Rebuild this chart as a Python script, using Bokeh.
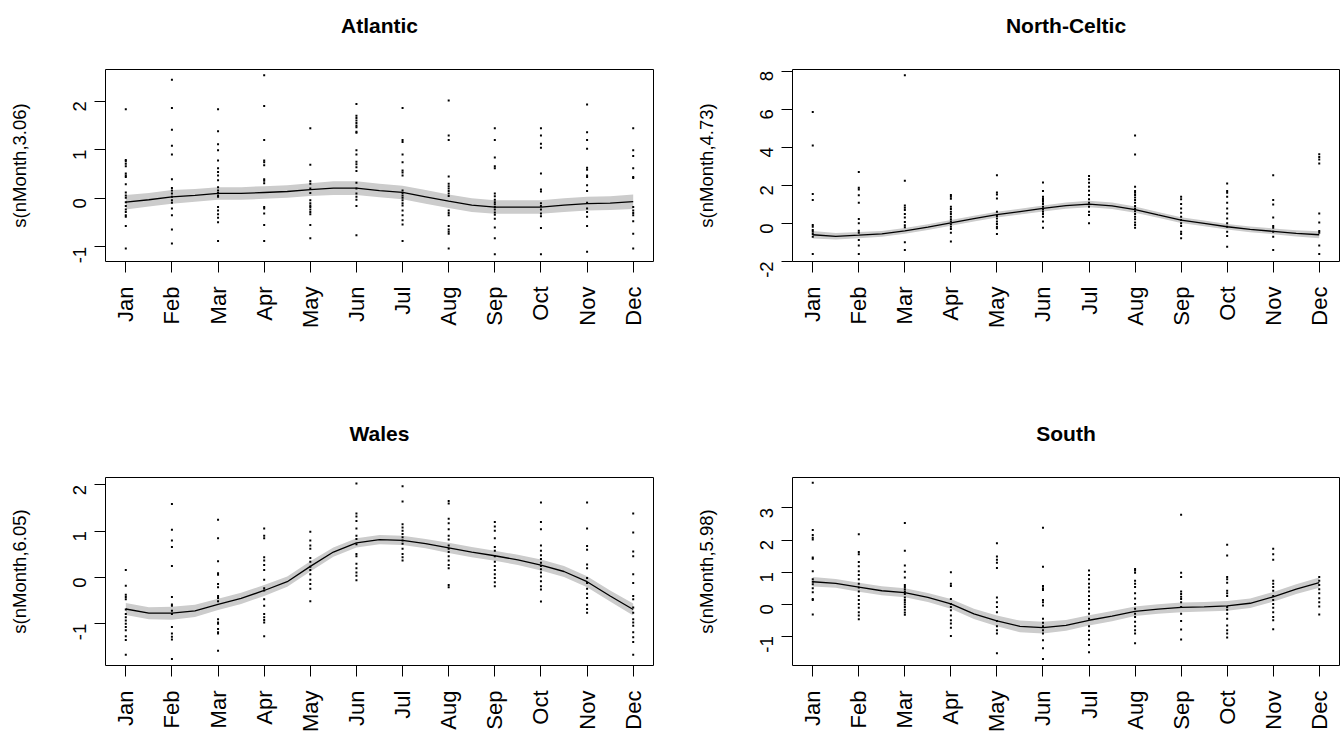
import math

from bokeh.embed import file_html
from bokeh.layouts import column, row
from bokeh.models import FixedTicker, Title
from bokeh.plotting import figure
from bokeh.resources import INLINE

# ---- data -------------------------------------------------------------
months = ["Jan", "Feb", "Mar", "Apr", "May", "Jun",
          "Jul", "Aug", "Sep", "Oct", "Nov", "Dec"]
month_num = [1, 2, 3, 4, 5, 6, 7, 8, 9, 10, 11, 12]

# smooth evaluated every half month, Jan .. Dec
fit_x = [1.0, 1.5, 2.0, 2.5, 3.0, 3.5, 4.0, 4.5, 5.0, 5.5, 6.0, 6.5,
         7.0, 7.5, 8.0, 8.5, 9.0, 9.5, 10.0, 10.5, 11.0, 11.5, 12.0]

atlantic_fit = [-0.08, -0.03, 0.03, 0.06, 0.10, 0.10, 0.12, 0.14, 0.18, 0.21, 0.21, 0.16,
                0.12, 0.03, -0.06, -0.14, -0.18, -0.18, -0.18, -0.14, -0.11, -0.10, -0.07]
atlantic_se = [0.15, 0.14, 0.14, 0.13, 0.13, 0.13, 0.13, 0.13, 0.13, 0.14, 0.14, 0.14,
               0.14, 0.14, 0.14, 0.14, 0.14, 0.14, 0.14, 0.14, 0.14, 0.14, 0.15]
atlantic_resid = [
    [1.83, 0.79, 0.76, 0.71, 0.66, 0.51, 0.47, 0.44, 0.29, 0.12, 0.06, 0.01, -0.08, -0.16,
     -0.23, -0.28, -0.35, -0.38, -0.57, -1.03],
    [2.44, 1.86, 1.41, 1.08, 0.90, 0.39, 0.21, 0.16, 0.10, 0.03, -0.04, -0.09, -0.21, -0.35,
     -0.64, -0.93],
    [1.83, 1.38, 1.11, 0.99, 0.78, 0.62, 0.54, 0.47, 0.37, 0.23, 0.16, 0.11, 0.06, 0.03,
     -0.18, -0.25, -0.33, -0.40, -0.49, -0.88],
    [2.53, 1.90, 1.20, 0.78, 0.74, 0.68, 0.39, 0.36, 0.31, -0.18, -0.21, -0.31, -0.55, -0.88],
    [1.44, 0.69, 0.35, 0.30, 0.20, 0.11, -0.04, -0.10, -0.15, -0.18, -0.23, -0.28, -0.33,
     -0.55, -0.82],
    [1.94, 1.70, 1.65, 1.60, 1.55, 1.50, 1.46, 1.37, 1.35, 0.99, 0.90, 0.75, 0.70, 0.64,
     0.56, 0.32, 0.20, 0.10, 0.03, -0.03, -0.16, -0.76],
    [1.86, 1.20, 1.16, 0.90, 0.74, 0.57, 0.53, 0.47, 0.16, 0.11, 0.06, 0.01, -0.04, -0.10,
     -0.15, -0.25, -0.35, -0.45, -0.54, -0.88],
    [2.01, 1.29, 1.20, 0.45, 0.30, 0.25, 0.20, 0.15, 0.10, 0.05, -0.25, -0.30, -0.35, -0.57,
     -0.64, -0.69, -0.73, -1.03],
    [1.44, 1.20, 0.84, 0.66, 0.62, 0.10, 0.04, -0.03, -0.08, -0.12, -0.18, -0.23, -0.29,
     -0.34, -0.42, -0.60, -0.82, -1.15],
    [1.44, 1.29, 1.12, 1.04, 0.51, 0.18, 0.14, -0.10, -0.16, -0.23, -0.31, -0.37, -0.61, -1.15],
    [1.93, 1.36, 1.20, 1.02, 0.63, 0.59, 0.47, 0.44, 0.27, 0.15, -0.09, -0.21, -0.28, -0.38,
     -0.57, -1.10],
    [1.44, 0.99, 0.87, 0.62, 0.44, 0.42, -0.18, -0.25, -0.30, -0.35, -0.47, -0.73, -1.03],
]

north_celtic_fit = [-0.60, -0.68, -0.62, -0.55, -0.40, -0.20, 0.02, 0.25, 0.46, 0.62, 0.78, 0.93,
                    1.01, 0.92, 0.72, 0.44, 0.17, 0.00, -0.18, -0.32, -0.42, -0.53, -0.60]
north_celtic_se = [0.20, 0.17, 0.16, 0.15, 0.15, 0.15, 0.15, 0.15, 0.15, 0.15, 0.16, 0.17,
                   0.17, 0.17, 0.16, 0.15, 0.15, 0.15, 0.15, 0.15, 0.15, 0.16, 0.18]
north_celtic_resid = [
    [5.85, 4.09, 1.54, 1.22, -0.09, -0.18, -0.35, -0.44, -0.56, -0.70, -1.61],
    [2.69, 1.87, 1.78, 1.47, 1.08, 0.23, 0.00, -0.39, -0.49, -0.87, -1.16, -1.61],
    [7.78, 2.23, 0.94, 0.82, 0.70, 0.49, 0.30, 0.07, -0.10, -0.21, -0.99, -1.40],
    [1.49, 1.40, 1.29, 0.87, 0.75, 0.61, 0.49, 0.35, 0.21, 0.09, -0.05, -0.18, -0.30, -0.49,
     -0.96],
    [2.53, 1.62, 1.52, 1.31, 0.61, 0.38, 0.26, 0.09, -0.04, -0.18, -0.26, -0.56],
    [2.15, 1.70, 1.40, 1.31, 1.22, 1.13, 1.01, 0.87, 0.73, 0.61, 0.49, 0.35, 0.09, -0.23],
    [2.48, 2.31, 2.13, 1.92, 1.71, 1.49, 1.26, 1.08, 0.87, 0.61, 0.44, 0.00],
    [4.61, 3.62, 1.92, 1.70, 1.61, 1.49, 1.36, 1.22, 1.08, 0.91, 0.78, 0.64, 0.49, 0.35,
     0.21, 0.05, -0.09, -0.23],
    [1.40, 1.26, 1.01, 0.78, 0.56, 0.35, 0.17, 0.00, -0.14, -0.44, -0.56, -0.79],
    [2.09, 1.70, 1.61, 1.40, 1.08, 0.78, 0.52, 0.26, 0.00, -0.18, -0.44, -0.67, -1.23],
    [2.53, 1.22, 0.99, 0.31, -0.14, -0.23, -0.44, -0.70, -1.40],
    [3.63, 3.49, 3.35, 3.14, 0.52, 0.05, -0.40, -0.49, -1.16, -1.61],
]

wales_fit = [-0.68, -0.77, -0.77, -0.72, -0.58, -0.45, -0.28, -0.09, 0.24, 0.55, 0.75, 0.82,
             0.80, 0.73, 0.64, 0.55, 0.47, 0.38, 0.27, 0.13, -0.09, -0.40, -0.69]
wales_se = [0.13, 0.13, 0.14, 0.13, 0.12, 0.12, 0.12, 0.11, 0.11, 0.10, 0.10, 0.10,
            0.10, 0.10, 0.11, 0.11, 0.11, 0.11, 0.12, 0.12, 0.12, 0.12, 0.13]
wales_resid = [
    [0.16, -0.18, -0.37, -0.42, -0.47, -0.69, -0.79, -0.86, -0.93, -1.00, -1.07, -1.14,
     -1.27, -1.35, -1.67],
    [1.59, 1.03, 0.80, 0.66, 0.25, -0.42, -0.58, -0.61, -0.72, -0.79, -1.07, -1.21, -1.28,
     -1.34, -1.76],
    [1.25, 0.85, 0.35, 0.09, 0.06, -0.14, -0.21, -0.40, -0.44, -0.51, -0.90, -0.97, -1.00,
     -1.11, -1.18, -1.21, -1.58],
    [1.06, 0.90, 0.85, 0.44, 0.37, 0.27, 0.16, -0.05, -0.23, -0.28, -0.47, -0.61, -0.79,
     -0.86, -0.92, -0.97, -1.27],
    [0.99, 0.80, 0.69, 0.62, 0.42, 0.34, 0.23, 0.16, 0.07, -0.05, -0.14, -0.24, -0.51],
    [2.03, 1.38, 1.32, 1.22, 1.06, 0.90, 0.83, 0.72, 0.51, 0.46, 0.30, 0.20, 0.11, 0.04, -0.06],
    [1.97, 1.64, 1.15, 1.08, 1.01, 0.94, 0.87, 0.80, 0.73, 0.62, 0.51, 0.44, 0.37],
    [1.65, 1.60, 1.27, 1.17, 1.04, 0.90, 0.82, 0.69, 0.62, 0.55, 0.46, 0.37, 0.27, 0.20,
     -0.16, -0.21],
    [1.20, 1.10, 1.01, 0.85, 0.66, 0.58, 0.46, 0.34, 0.25, 0.16, 0.07, -0.01, -0.10, -0.19],
    [1.62, 1.20, 1.04, 0.69, 0.58, 0.48, 0.40, 0.32, 0.25, 0.18, 0.11, 0.02, -0.08, -0.19,
     -0.26, -0.52],
    [1.62, 1.06, 0.68, 0.60, 0.28, 0.20, -0.01, -0.12, -0.24, -0.35, -0.44, -0.59, -0.68, -0.76],
    [1.38, 0.97, 0.56, 0.46, 0.07, -0.12, -0.40, -0.47, -0.65, -0.76, -0.90, -0.97, -1.04,
     -1.18, -1.29, -1.39, -1.67],
]

south_fit = [0.70, 0.65, 0.53, 0.42, 0.36, 0.21, 0.01, -0.30, -0.52, -0.69, -0.73, -0.66,
             -0.50, -0.37, -0.22, -0.15, -0.10, -0.08, -0.05, 0.03, 0.23, 0.47, 0.67]
south_se = [0.15, 0.14, 0.14, 0.14, 0.14, 0.14, 0.15, 0.16, 0.17, 0.18, 0.18, 0.17,
            0.16, 0.16, 0.15, 0.15, 0.15, 0.15, 0.15, 0.15, 0.15, 0.15, 0.16]
south_resid = [
    [3.79, 2.31, 2.16, 2.07, 2.02, 1.46, 1.42, 1.03, 0.78, 0.70, 0.62, 0.50, 0.37, 0.16,
     0.13, -0.32],
    [2.18, 1.63, 1.56, 1.32, 1.18, 1.03, 0.91, 0.78, 0.64, 0.52, 0.40, 0.26, 0.13, 0.01,
     -0.11, -0.25, -0.35, -0.47],
    [2.53, 1.67, 1.21, 1.01, 0.83, 0.60, 0.54, 0.47, 0.40, 0.32, 0.21, 0.13, 0.06, -0.01,
     -0.09, -0.17, -0.26, -0.33],
    [1.00, 0.64, 0.57, 0.16, 0.01, -0.09, -0.19, -0.35, -0.50, -0.60, -0.73, -0.99],
    [1.90, 1.49, 1.39, 1.29, 1.13, 0.21, 0.06, -0.09, -0.25, -0.52, -0.69, -0.81, -0.91, -1.53],
    [2.38, 1.17, 0.57, 0.50, 0.44, 0.13, 0.06, -0.04, -0.45, -0.58, -0.69, -0.81, -0.91,
     -1.12, -1.37, -1.71],
    [1.05, 0.91, 0.78, 0.64, 0.52, 0.40, 0.26, 0.13, 0.01, -0.14, -0.30, -0.45, -0.69, -0.83,
     -0.96, -1.10, -1.27, -1.50],
    [1.10, 1.05, 0.98, 0.73, 0.64, 0.54, 0.34, 0.18, 0.01, -0.14, -0.30, -0.40, -0.55, -0.69,
     -0.81, -0.91, -1.22],
    [2.79, 0.98, 0.85, 0.40, 0.32, 0.23, 0.16, 0.06, -0.09, -0.30, -0.52, -0.79, -1.10],
    [1.85, 1.52, 0.85, 0.78, 0.67, 0.42, 0.34, 0.26, -0.09, -0.17, -0.30, -0.45, -0.66,
     -0.81, -0.91, -1.04],
    [1.73, 1.56, 1.39, 0.73, 0.64, 0.54, 0.42, 0.26, 0.13, 0.01, -0.11, -0.25, -0.40, -0.50,
     -0.78],
    [0.85, 0.73, 0.60, 0.47, 0.34, 0.19, 0.06, -0.07, -0.32],
]

FONT = "Liberation Sans"


def smooth_panel(title, ylab, fit, se, resid, y_range, y_ticks,
                 border_left, border_right, height, border_bottom):
    p = figure(width=670, height=height,
               x_range=(0.56, 12.44), y_range=y_range,
               output_backend="svg", toolbar_location=None,
               min_border_left=border_left, min_border_right=border_right,
               min_border_top=69, min_border_bottom=border_bottom,
               background_fill_color="white", border_fill_color="white")

    # a blank spacer title keeps the heading clear of the plotting box
    p.add_layout(Title(text=" ", text_font=FONT, text_font_size="10px",
                       text_color="black", standoff=20), "above")
    p.add_layout(Title(text=title, align="center", text_font=FONT,
                       text_font_size="21px", text_font_style="bold",
                       text_color="black", standoff=0), "above")

    p.grid.visible = False
    p.outline_line_color = "black"
    p.outline_line_width = 1
    p.outline_line_alpha = 1.0

    # confidence band, fitted smooth, partial residuals
    lower = [f - s for f, s in zip(fit, se)]
    upper = [f + s for f, s in zip(fit, se)]
    p.varea(x=fit_x, y1=lower, y2=upper, fill_color="#CCCCCC")
    p.line(fit_x, fit, line_color="black", line_width=1.3)

    px = [m for m, vals in zip(month_num, resid) for _ in vals]
    py = [v for vals in resid for v in vals]
    p.scatter(px, py, marker="square", size=2, fill_color="black", line_color=None)

    xa = p.xaxis[0]
    xa.ticker = FixedTicker(ticks=month_num)
    xa.major_label_overrides = {m: lab for m, lab in zip(month_num, months)}
    xa.major_label_orientation = math.pi / 2
    xa.major_label_text_font = FONT
    xa.major_label_text_font_size = "22px"
    xa.major_label_text_color = "black"
    xa.major_label_standoff = 14
    xa.major_tick_out = 11
    xa.major_tick_in = 0
    xa.minor_tick_out = 0
    xa.minor_tick_in = 0
    xa.axis_line_color = None
    xa.major_tick_line_color = "black"

    ya = p.yaxis[0]
    ya.ticker = FixedTicker(ticks=y_ticks)
    ya.major_label_overrides = {t: str(t) for t in y_ticks}
    ya.major_label_orientation = math.pi / 2
    ya.major_label_text_font = FONT
    ya.major_label_text_font_size = "18.5px"
    ya.major_label_text_color = "black"
    ya.major_label_standoff = 15
    ya.major_tick_out = 11
    ya.major_tick_in = 0
    ya.minor_tick_out = 0
    ya.minor_tick_in = 0
    ya.axis_line_color = None
    ya.major_tick_line_color = "black"
    ya.axis_label = ylab
    ya.axis_label_text_font = FONT
    ya.axis_label_text_font_size = "18.5px"
    ya.axis_label_text_font_style = "normal"
    ya.axis_label_text_color = "black"
    ya.axis_label_standoff = 34
    return p


p1 = smooth_panel("Atlantic", "s(nMonth,3.06)", atlantic_fit, atlantic_se, atlantic_resid,
                  (-1.30, 2.65), [-1, 0, 1, 2], 105, 17, 408, 147)
p2 = smooth_panel("North-Celtic", "s(nMonth,4.73)", north_celtic_fit, north_celtic_se,
                  north_celtic_resid, (-2.005, 8.08), [-2, 0, 2, 4, 6, 8], 122, 1, 408, 147)
p3 = smooth_panel("Wales", "s(nMonth,6.05)", wales_fit, wales_se, wales_resid,
                  (-1.90, 2.16), [-1, 0, 1, 2], 105, 17, 327, 66)
p4 = smooth_panel("South", "s(nMonth,5.98)", south_fit, south_se, south_resid,
                  (-1.91, 3.95), [-1, 0, 1, 2, 3], 122, 1, 327, 66)

layout = column(row(p1, p2), row(p3, p4))

with open("out.html", "w") as fh:
    fh.write(file_html(layout, INLINE))
